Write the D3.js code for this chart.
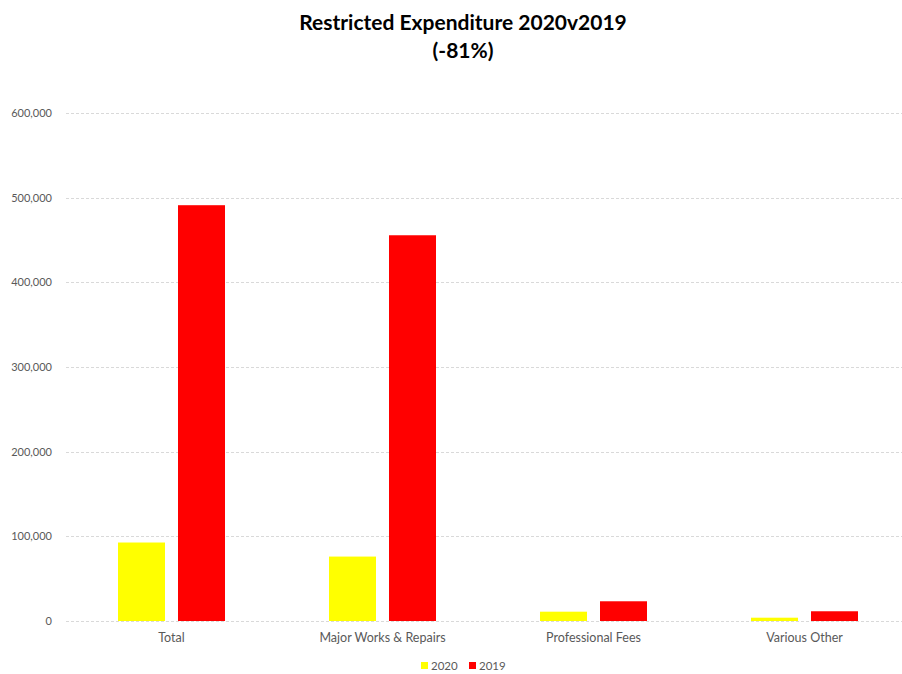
<!DOCTYPE html>
<html>
<head>
<meta charset="utf-8">
<script src="https://cdn.jsdelivr.net/npm/d3@7"></script>
<style>
  body { margin: 0; background: #fff; }
  svg { display: block; }
  text { font-family: Lato, "Open Sans", "Liberation Sans", sans-serif; }
</style>
</head>
<body>
<svg id="chart" width="902" height="674"></svg>
<script>
const categories = ["Total", "Major Works & Repairs", "Professional Fees", "Various Other"];
const seriesNames = ["2020", "2019"];
const values2020 = [92700, 76100, 11000, 3900];
const values2019 = [491100, 455600, 23300, 11500];
const seriesColors = ["#FFFF00", "#FF0000"];
const yTicks = [0, 100000, 200000, 300000, 400000, 500000, 600000];
const titleLines = ["Restricted Expenditure 2020v2019", "(-81%)"];

const seriesValues = [values2020, values2019];
const svg = d3.select("#chart");
const W = 902, H = 674;
const plotTop = 113, plotBottom = 621;

const y = d3.scaleLinear().domain([0, 600000]).range([plotBottom, plotTop]);
const x0 = d3.scaleBand().domain(categories).range([66, 910]).paddingInner(0).paddingOuter(0);
const x1 = d3.scaleBand().domain(seriesNames).range([52, 159]).paddingInner(0.2167).paddingOuter(0);

// gridlines
svg.append("g")
  .selectAll("line")
  .data(yTicks)
  .join("line")
  .attr("x1", 66).attr("x2", W)
  .attr("y1", d => Math.round(y(d)) + 0.5).attr("y2", d => Math.round(y(d)) + 0.5)
  .attr("stroke", "#d9d9d9")
  .attr("stroke-width", 1)
  .attr("stroke-dasharray", "3,2");

// y axis
const yAxis = d3.axisLeft(y).tickValues(yTicks).tickFormat(d3.format(",")).tickSize(0).tickPadding(14);
const yg = svg.append("g").attr("transform", "translate(66,0)").call(yAxis);
yg.select(".domain").remove();
yg.selectAll("text").attr("fill", "#595959").attr("font-size", "11px");

// bars
const groups = svg.append("g")
  .selectAll("g")
  .data(categories)
  .join("g")
  .attr("transform", d => `translate(${x0(d)},0)`);

groups.selectAll("rect")
  .data((c, i) => seriesNames.map((s, j) => ({ s, v: seriesValues[j][i], color: seriesColors[j] })))
  .join("rect")
  .attr("x", d => x1(d.s))
  .attr("width", x1.bandwidth())
  .attr("y", d => y(d.v))
  .attr("height", d => y(0) - y(d.v))
  .attr("fill", d => d.color);

// x axis labels
const xAxis = d3.axisBottom(x0).tickSize(0).tickPadding(12);
const xg = svg.append("g").attr("transform", `translate(0,${plotBottom})`).call(xAxis);
xg.select(".domain").remove();
xg.selectAll(".tick").attr("transform", d => `translate(${x0(d) + 52 + 107 / 2},0)`);
xg.selectAll("text").attr("fill", "#595959").attr("font-size", "12.5px");

// title
svg.append("text")
  .attr("x", 463).attr("y", 30)
  .attr("text-anchor", "middle")
  .attr("font-size", "21px").attr("font-weight", "bold").attr("fill", "#000")
  .text(titleLines[0]);
svg.append("text")
  .attr("x", 463).attr("y", 58)
  .attr("text-anchor", "middle")
  .attr("font-size", "21px").attr("font-weight", "bold").attr("fill", "#000")
  .text(titleLines[1]);

// legend
const legendX = [421, 469];
const legend = svg.append("g");
seriesNames.forEach((s, i) => {
  legend.append("rect").attr("x", legendX[i]).attr("y", 662).attr("width", 7).attr("height", 7).attr("fill", seriesColors[i]);
  legend.append("text").attr("x", legendX[i] + 10).attr("y", 669.5)
    .attr("font-size", "11.5px").attr("fill", "#595959").text(s);
});
</script>
</body>
</html>
